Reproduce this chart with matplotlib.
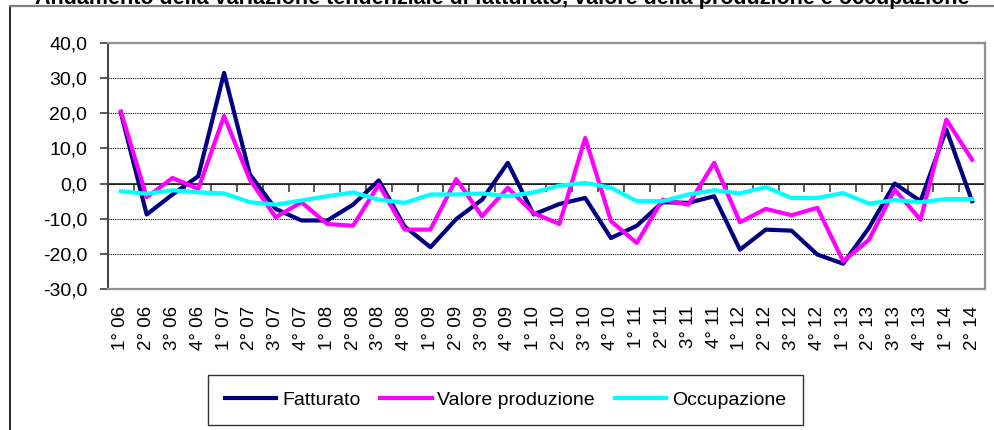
import matplotlib.pyplot as plt
import numpy as np
from matplotlib.lines import Line2D

plt.rcParams['font.family'] = ['Liberation Sans', 'DejaVu Sans']

# trimestri dal 1° 2006 al 2° 2014
trimestri = ['1° 06', '2° 06', '3° 06', '4° 06', '1° 07', '2° 07', '3° 07', '4° 07',
             '1° 08', '2° 08', '3° 08', '4° 08', '1° 09', '2° 09', '3° 09', '4° 09',
             '1° 10', '2° 10', '3° 10', '4° 10', '1° 11', '2° 11', '3° 11', '4° 11',
             '1° 12', '2° 12', '3° 12', '4° 12', '1° 13', '2° 13', '3° 13', '4° 13',
             '1° 14', '2° 14']

fatturato = [20.1, -8.8, -3.1, 2.1, 31.5, 2.6, -7.2, -10.5, -10.5, -6.0, 0.9, -12.2,
             -18.1, -10.1, -4.6, 5.9, -8.8, -5.8, -4.1, -15.5, -12.0, -5.3, -5.5, -3.6,
             -18.8, -13.1, -13.4, -20.2, -22.8, -12.6, 0.0, -5.0, 15.4, -5.0]

valore_produzione = [20.5, -3.9, 1.6, -1.5, 19.2, 1.1, -9.6, -5.3, -11.5, -12.0, -0.3, -13.1,
                     -13.1, 1.3, -9.3, -1.2, -8.4, -11.5, 13.0, -10.7, -16.9, -4.6, -6.0, 5.9,
                     -11.0, -7.2, -9.0, -6.9, -22.1, -16.0, -1.7, -10.3, 18.2, 6.8]

occupazione = [-2.2, -2.9, -1.9, -2.5, -2.8, -5.3, -6.0, -4.8, -3.6, -2.5, -4.6, -5.5,
               -3.1, -3.1, -2.8, -3.6, -2.5, -0.6, 0.2, -1.2, -5.0, -5.0, -3.1, -1.9,
               -2.8, -1.0, -4.1, -4.1, -2.7, -5.7, -4.7, -5.3, -4.4, -4.4]

titolo = ('Andamento della variazione tendenziale di fatturato, '
          'valore della produzione e occupazione')

fig = plt.figure(figsize=(9.95, 4.3), dpi=100)
ax = fig.add_axes([108 / 995, 1 - 289 / 430, 877 / 995, 246 / 430])

x = np.arange(len(trimestri))
ax.plot(x, fatturato, color='#000080', lw=3, label='Fatturato')
ax.plot(x, valore_produzione, color='#FF00FF', lw=3, label='Valore produzione')
ax.plot(x, occupazione, color='#00FFFF', lw=3, label='Occupazione')

ax.set_xlim(-0.5, len(trimestri) - 0.5)
ax.set_ylim(-30, 40)

yt = np.arange(-30, 41, 10)
ax.set_yticks(yt)
ax.set_yticklabels([f'{v:.1f}'.replace('.', ',') for v in yt], fontsize=14)
ax.tick_params(axis='y', length=6, width=1.2, color='#404040', pad=9)
ax.grid(axis='y', linestyle=(0, (1, 1)), color='black', lw=0.8)

ax.set_xticks(x)
ax.set_xticklabels(trimestri, rotation=90, fontsize=13.5)
ax.tick_params(axis='x', length=0, pad=12)

for s in ['top', 'right', 'bottom']:
    ax.spines[s].set_color('#909090')
    ax.spines[s].set_linewidth(1.6)
ax.spines['left'].set_color('#404040')
ax.spines['left'].set_linewidth(1.4)

# asse delle categorie sullo zero
zero = ax.secondary_xaxis(30 / 70)
zero.set_xticks(np.arange(-0.5, len(trimestri), 1))
zero.set_xticklabels([])
zero.tick_params(axis='x', length=6, width=1.2, color='#404040', direction='out')
zero.spines['bottom'].set_color('#404040')
zero.spines['bottom'].set_linewidth(1.4)

fig.legend(loc='center', bbox_to_anchor=(505.5 / 995, 1 - 400 / 430), ncol=3,
           fontsize=14, frameon=True, fancybox=False, edgecolor='black',
           handlelength=2.65, handletextpad=0.3, columnspacing=1.0,
           borderpad=0.85).get_frame().set_linewidth(1.0)

# cornice esterna del grafico
fig.add_artist(Line2D([9.5 / 995, 9.5 / 995], [-0.1, 1 - 6 / 430],
                      transform=fig.transFigure, color='black', lw=1.2))
fig.add_artist(Line2D([9.5 / 995, 1.1], [1 - 6 / 430, 1 - 6 / 430],
                      transform=fig.transFigure, color='#808080', lw=1.6))

fig.text(502 / 995, 1 - 4 / 430, titolo, ha='center', va='baseline',
         fontsize=15.5, weight='bold')

fig.savefig('out.png', dpi=100)
